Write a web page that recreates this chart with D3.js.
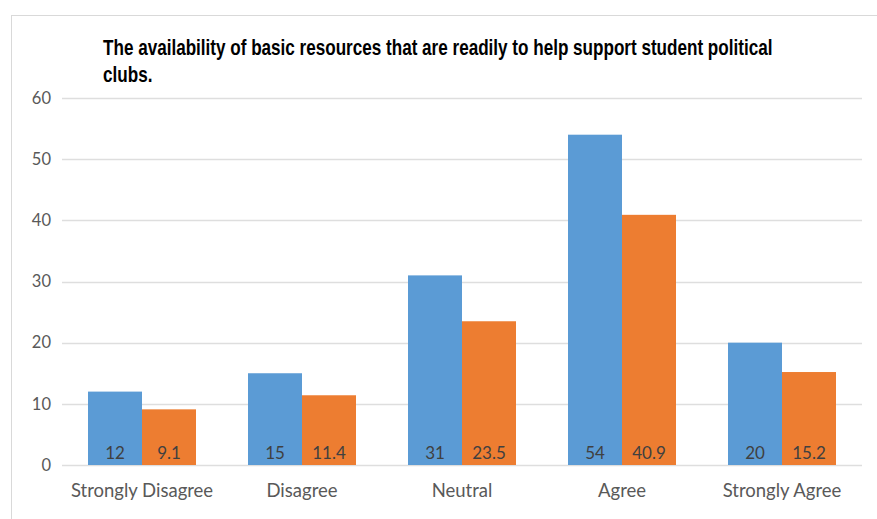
<!DOCTYPE html>
<html>
<head>
<meta charset="utf-8">
<script src="https://cdn.jsdelivr.net/npm/d3@7/dist/d3.min.js"></script>
<style>
  html, body { margin: 0; padding: 0; background: #fff; }
  svg { display: block; }
</style>
</head>
<body>
<svg id="chart" width="877" height="519"></svg>
<script>
// Survey responses: counts and percentages per answer
const categories = ["Strongly Disagree", "Disagree", "Neutral", "Agree", "Strongly Agree"];
const counts = [12, 15, 31, 54, 20];
const percents = [9.1, 11.4, 23.5, 40.9, 15.2];
const yTicks = [0, 10, 20, 30, 40, 50, 60];
const titleLines = [
  "The availability of basic resources that are readily to help support student political",
  "clubs."
];

const svg = d3.select("#chart");
const W = 877, H = 519;
const labelFont = "Lato, 'Open Sans', sans-serif";

// Chart frame
svg.append("rect")
  .attr("x", 11.5).attr("y", 15.5)
  .attr("width", W).attr("height", H)
  .attr("fill", "#fff").attr("stroke", "#d9d9d9").attr("stroke-width", 1);

const plot = { left: 62, right: 862, top: 98, bottom: 465 };

const x = d3.scaleBand()
  .domain(categories)
  .range([plot.left, plot.right])
  .paddingInner(0.325).paddingOuter(0.1625);

const y = d3.scaleLinear().domain([0, 60]).range([plot.bottom, plot.top]);

// Gridlines
svg.append("g").selectAll("line").data(yTicks).join("line")
  .attr("x1", plot.left).attr("x2", plot.right)
  .attr("y1", d => Math.round(y(d)) + 0.5).attr("y2", d => Math.round(y(d)) + 0.5)
  .attr("stroke", "#dedede").attr("stroke-width", 1.3);

// Y axis labels
const yAxis = d3.axisLeft(y).tickValues(yTicks).tickSize(0).tickPadding(11);
const gy = svg.append("g").attr("transform", `translate(${plot.left},0)`).call(yAxis);
gy.select(".domain").remove();
gy.selectAll("text")
  .attr("font-family", labelFont)
  .attr("font-size", 16.5).attr("fill", "#595959");

// X axis labels
const xAxis = d3.axisBottom(x).tickSize(0).tickPadding(19);
const gx = svg.append("g").attr("transform", `translate(0,${plot.bottom})`).call(xAxis);
gx.select(".domain").remove();
gx.selectAll("text")
  .attr("font-family", labelFont)
  .attr("font-size", 18.5).attr("fill", "#595959");

// Series bars
const series = [
  { name: "count", values: counts, color: "#5B9BD5" },
  { name: "percent", values: percents, color: "#ED7D31" }
];
const sub = d3.scaleBand().domain(series.map(s => s.name)).range([0, x.bandwidth()]);

series.forEach(s => {
  const g = svg.append("g");
  g.selectAll("rect").data(categories).join("rect")
    .attr("x", (c) => x(c) + sub(s.name))
    .attr("y", (c, i) => y(s.values[i]))
    .attr("width", sub.bandwidth())
    .attr("height", (c, i) => y(0) - y(s.values[i]))
    .attr("fill", s.color);
  g.selectAll("text").data(categories).join("text")
    .attr("x", (c) => x(c) + sub(s.name) + sub.bandwidth() / 2)
    .attr("y", y(0) - 6)
    .attr("text-anchor", "middle")
    .attr("font-family", labelFont)
    .attr("font-size", 17).attr("fill", "#404040")
    .text((c, i) => s.values[i]);
});

// Title: bold text squeezed horizontally so it reads condensed
const titleFont = "'Liberation Sans Narrow', 'Arial Narrow', 'Liberation Sans', sans-serif";
const titleWidth = 670;
const titleG = svg.append("g");
const t1 = titleG.append("text")
  .attr("x", 0).attr("y", 55)
  .attr("font-family", titleFont).attr("font-weight", "bold")
  .attr("font-size", 22).attr("fill", "#000")
  .text(titleLines[0]);
const t2 = titleG.append("text")
  .attr("x", 0).attr("y", 82)
  .attr("font-family", titleFont).attr("font-weight", "bold")
  .attr("font-size", 22).attr("fill", "#000")
  .text(titleLines[1]);
const squeeze = titleWidth / t1.node().getComputedTextLength();
titleG.attr("transform", `translate(103,0) scale(${squeeze},1)`);
</script>
</body>
</html>
